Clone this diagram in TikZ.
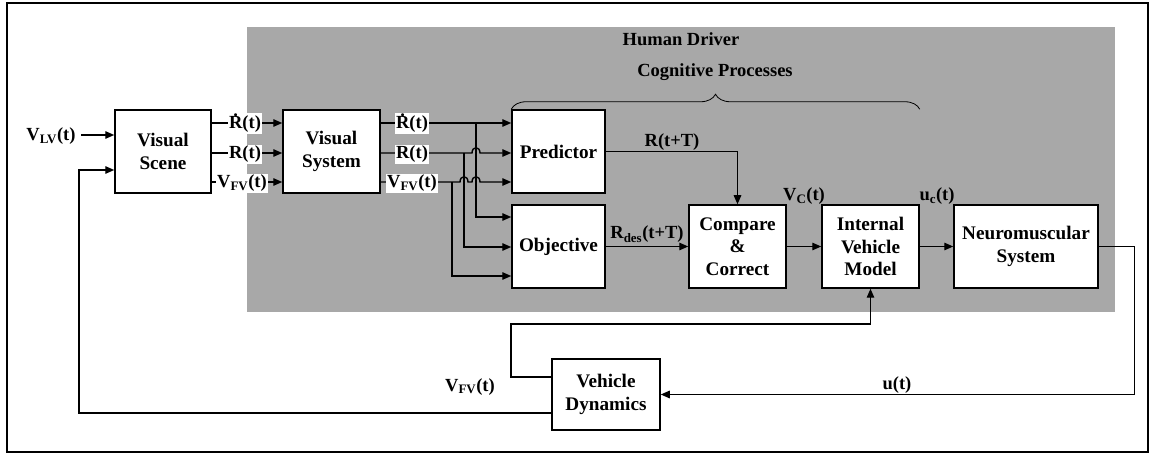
\documentclass[tikz,border=0pt]{standalone}
\usepackage{fontspec}
\setmainfont{Liberation Serif}
\usetikzlibrary{arrows.meta,decorations.pathreplacing}
\newcommand{\Rdt}{{\setbox0\hbox{R}\rlap{\hbox to\wd0{\hss\raisebox{0.68em}{.}\hss}}R}}
\begin{document}
\begin{tikzpicture}[x=1pt,y=-1pt, line width=1.4pt,
  box/.style={draw, fill=white, line width=1.5pt, align=center, inner sep=0pt,
    font=\bfseries\fontsize{19.2}{22.5}\selectfont},
  lbl/.style={font=\bfseries\fontsize{18.5}{22}\selectfont, inner sep=1pt, anchor=base},
  wlbl/.style={lbl, fill=white},
  arr/.style={-{Triangle[length=9pt,width=7.5pt]}}]
\useasboundingbox (0,0) rectangle (1151,454);
\fill[gray!68!white] (247,27) rectangle (1115,312);
\draw[line width=1.5pt] (7,3) rectangle (1148,452);

% boxes
\node[box, minimum width=96, minimum height=83] (scene) at (163,151.5) {Visual\\Scene};
\node[box, minimum width=97, minimum height=83] (vsys) at (331.5,151.5) {Visual\\System};
\node[box, minimum width=93, minimum height=83] (pred) at (558.5,151.5) {Predictor};
\node[box, minimum width=93, minimum height=83] (obj) at (558.5,246.5) {Objective};
\node[box, minimum width=97, minimum height=83] (cmp) at (737.5,246.5) {Compare\\\&\\Correct};
\node[box, minimum width=97, minimum height=83] (ivm) at (870.5,246.5) {Internal\\Vehicle\\Model};
\node[box, minimum width=144, minimum height=83] (nms) at (1026,246.5) {Neuromuscular\\System};
\node[box, minimum width=108, minimum height=71] (vd) at (606,394.5) {Vehicle\\Dynamics};

% titles
\node[lbl] (hd) at (681,46) {Human Driver};
\node[lbl] (cp) at (715,77) {Cognitive Processes};
\draw[line width=0.8pt, decorate, decoration={brace, amplitude=15pt}]
  (pred.north west) -- (ivm.north east |- pred.north);

% coordinates for signal levels
\coordinate (yA) at (0,123);
\coordinate (yB) at (0,153);
\coordinate (yC) at (0,182);
\coordinate (yLV) at (0,135);
\coordinate (yFB) at (0,170);

% input
\node[lbl] (lvl) at (51,141) {V\textsubscript{LV}(t)};
\draw[arr] ([xshift=4pt]lvl.east|-yLV) -- (scene.west|-yLV);
\draw[arr] (vd.west|-0,413) -- (79,413) -- (79,170) -- (scene.west|-yFB);

% scene -> visual system
\draw[arr] (scene.east|-yA) -- (vsys.west|-yA);
\draw[arr] (scene.east|-yB) -- (vsys.west|-yB);
\draw[arr] (scene.east|-yC) -- (vsys.west|-yC);

% visual system -> predictor with hops
\draw[arr] (vsys.east|-yA) -- (pred.west|-yA);
\draw[arr] (vsys.east|-yB) -- (472,153) .. controls (472,146) and (480,146) .. (480,153) -- (pred.west|-yB);
\draw[arr] (vsys.east|-yC) -- (460,182) .. controls (460,175) and (468,175) .. (468,182)
  -- (472,182) .. controls (472,175) and (480,175) .. (480,182) -- (pred.west|-yC);
% branches to objective
\draw[arr] (476,123) -- (476,217) -- (obj.west|-0,217);
\draw[arr] (464,153) -- (464,247) -- (obj.west|-0,247);
\draw[arr] (452,182) -- (452,276) -- (obj.west|-0,276);

% signal labels
\node[wlbl] (l1) at (245,129) {\Rdt(t)};
\node[wlbl] (l2) at (245,159) {R(t)};
\node[wlbl] (l3) at (242,188) {V\textsubscript{FV}(t)};
\node[wlbl] (r1) at (412,129) {\Rdt(t)};
\node[wlbl] (r2) at (412,159) {R(t)};
\node[wlbl] (r3) at (412,188) {V\textsubscript{FV}(t)};

% cognitive chain
\draw[arr] (pred.east) -| (cmp.north);
\draw[arr] (obj.east) -- (cmp.west);
\draw[arr] (cmp.east) -- (ivm.west);
\draw[arr] (ivm.east) -- (nms.west);
\node[lbl] (rtt) at (672,147) {R(t+T)};
\node[lbl] (rdes) at (647,239) {R\textsubscript{des}(t+T)};
\node[lbl] (vc) at (804,201) {V\textsubscript{C}(t)};
\node[lbl] (uc) at (937,201) {u\textsubscript{c}(t)};

% plant loop
\draw[arr] (nms.east) -- ++(36,0) |- (vd.east);
\draw[arr] (vd.west|-0,377) -- (511,377) -- (511,324) -- (ivm.south|-0,324) -- (ivm.south);
\node[lbl] (ut) at (897,389) {u(t)};
\node[lbl] (vfb) at (470,391) {V\textsubscript{FV}(t)};
\end{tikzpicture}
\end{document}
